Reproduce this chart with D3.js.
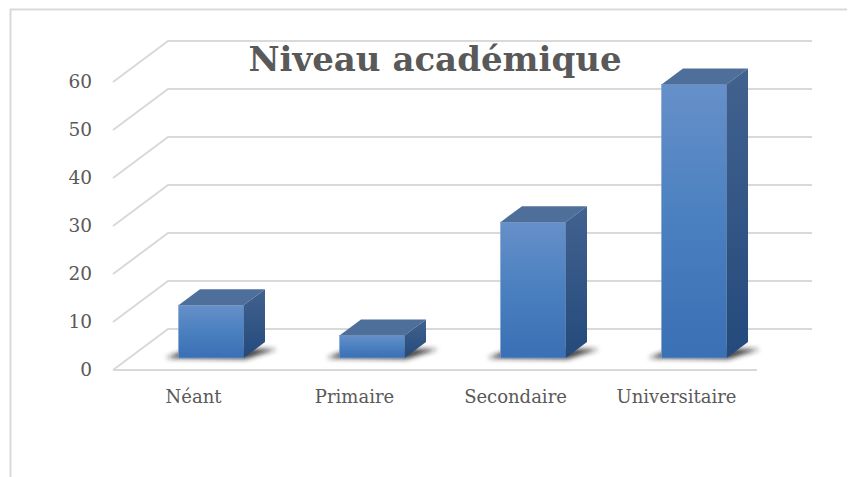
<!DOCTYPE html>
<html><head><meta charset="utf-8"><style>html,body{margin:0;background:#fff}svg{display:block}</style>
<script src="https://cdnjs.cloudflare.com/ajax/libs/d3/7.8.5/d3.min.js"></script></head><body>
<script>
const categories=["Néant","Primaire","Secondaire","Universitaire"];
const values=[11,4.7,28.3,57];
const ticks=[0,10,20,30,40,50,60];
const title="Niveau académique";
const W=848,H=477;
const svg=d3.select("body").append("svg").attr("width",W).attr("height",H);
const defs=svg.append("defs");
const grad=defs.append("linearGradient").attr("id","front").attr("x1",0).attr("x2",0).attr("y1",0).attr("y2",1);
grad.append("stop").attr("offset",0).attr("stop-color","#6690c9");
grad.append("stop").attr("offset",.5).attr("stop-color","#4a80c0");
grad.append("stop").attr("offset",1).attr("stop-color","#3a70b4");
const side=defs.append("linearGradient").attr("id","side").attr("x1",0).attr("x2",0).attr("y1",0).attr("y2",1);
side.append("stop").attr("offset",0).attr("stop-color","#42628f");
side.append("stop").attr("offset",1).attr("stop-color","#234a7c");
defs.append("filter").attr("id","blur").attr("x","-30%").attr("y","-80%").attr("width","160%").attr("height","260%")
  .append("feGaussianBlur").attr("stdDeviation",2.6);
// frame
svg.append("path").attr("d","M10.5,477V9.5H847").attr("fill","none").attr("stroke","#d9d9d9").attr("stroke-width",2);
// scales
const y=d3.scaleLinear().domain([0,60]).range([370,82]);
const x=d3.scaleBand().domain(categories).range([113,757]).paddingInner(0).paddingOuter(0);
const depth={dx:55,dy:-41};
const barW=65, barDx=17.5, barDy=-12, bd={dx:21.5,dy:-16};
// gridlines
const gl=svg.append("g").attr("fill","none").attr("stroke","#d9d9d9").attr("stroke-width",2);
ticks.forEach(t=>{
  gl.append("path").attr("d",`M${x.range()[0]},${y(t)}L${x.range()[0]+depth.dx},${y(t)+depth.dy}L${x.range()[1]+depth.dx},${y(t)+depth.dy}`);
});
gl.append("path").attr("d",`M${x.range()[0]},${y(0)}H${x.range()[1]}`);
// axis labels
const axisL=d3.axisLeft(y).tickValues(ticks).tickSize(0).tickPadding(0);
const ga=svg.append("g").attr("transform","translate(92,0)").call(axisL);
ga.select(".domain").remove();
ga.selectAll("text").attr("font-family","'DejaVu Serif'").attr("font-size",18.5).attr("fill","#595959");
const axisB=d3.axisBottom(x).tickSize(0).tickPadding(0);
const gb=svg.append("g").attr("transform","translate(0,390)").call(axisB);
gb.select(".domain").remove();
gb.selectAll("text").attr("font-family","'DejaVu Serif'").attr("font-size",18).attr("fill","#595959");
// bars
const bars=svg.append("g").selectAll("g").data(categories.map((c,i)=>({c,v:values[i]}))).join("g");
const geom=d=>{const x0=x(d.c)+x.bandwidth()/2+barDx-barW/2;return {x0,x1:x0+barW,b:y(0)+barDy,t:y(d.v)+barDy};};
bars.append("path").attr("filter","url(#blur)").attr("fill","#222").attr("fill-opacity",.85).attr("d",d=>{const g=geom(d);
  return `M${g.x0-13},${g.b}L${g.x0+10},${g.b-9}H${g.x1+bd.dx+12}L${g.x1+2},${g.b+1}Z`;});
bars.append("rect").attr("x",d=>geom(d).x0).attr("y",d=>geom(d).t).attr("width",barW).attr("height",d=>geom(d).b-geom(d).t).attr("fill","url(#front)").attr("stroke","#7fa3d3").attr("stroke-width",.6);
bars.append("path").attr("fill","#4f6f9b").attr("d",d=>{const g=geom(d);return `M${g.x0},${g.t}l${bd.dx},${bd.dy}H${g.x1+bd.dx}L${g.x1},${g.t}Z`;});
bars.append("path").attr("fill","url(#side)").attr("d",d=>{const g=geom(d);return `M${g.x1},${g.t}l${bd.dx},${bd.dy}V${g.b+bd.dy}L${g.x1},${g.b}Z`;});
// title
svg.append("text").attr("x",435).attr("y",71).attr("text-anchor","middle").attr("font-family","'DejaVu Serif'").attr("font-weight","bold").attr("font-size",34).attr("fill","#595959").text(title);
</script></body></html>
